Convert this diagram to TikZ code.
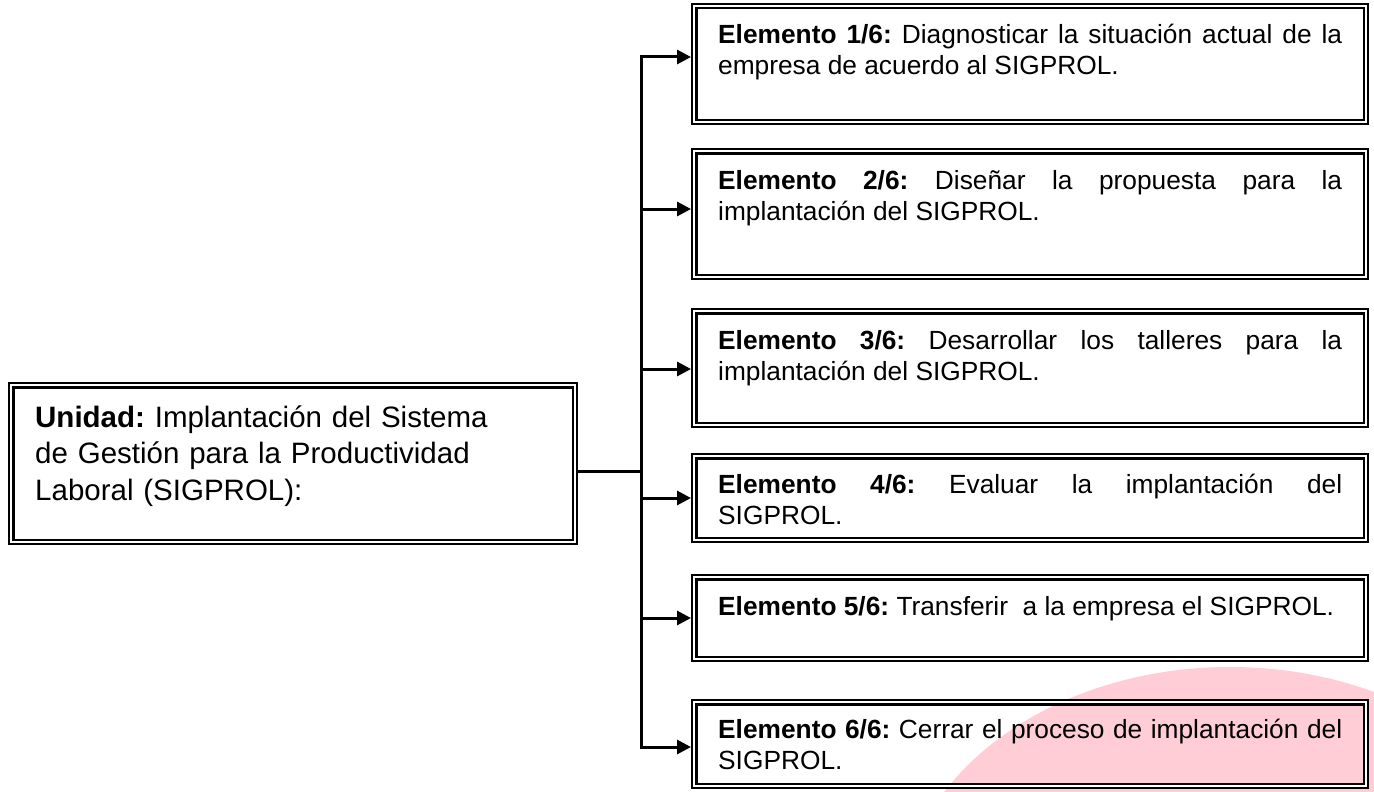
\documentclass[tikz,border=0pt]{standalone}
\usepackage{fontspec}
\setmainfont{Liberation Sans}
\usetikzlibrary{arrows.meta,positioning}
\definecolor{blush}{RGB}{255,205,213}

\begin{document}
\frenchspacing
\begin{tikzpicture}[x=1pt,y=-1pt,
    caja/.style={draw, double, line width=2.1pt, double distance=2.3pt, outer sep=3.25pt, inner sep=0pt},
    elem/.style={caja, minimum width=671.5pt},
    texto/.style={anchor=base west, inner sep=0pt, text width=624pt, align=justify, font=\fontsize{26.3}{31}\selectfont},
    enlace/.style={line width=3pt},
    punta/.tip={Triangle[length=14pt,width=14pt]},
    flecha/.style={enlace, -punta}]
    \useasboundingbox (0,0) rectangle (1374,792);

    % pink blot in the lower right corner
    \begin{scope}
        \clip (0,0) rectangle (1374,792);
        \fill[blush] (1230,917) ellipse (330 and 250);
    \end{scope}

    % Unidad (left)
    \node[caja, minimum width=563.5pt, minimum height=156.5pt] (unidad) at (293,463.5) {};
    \node[anchor=base west, inner sep=0pt, text width=530pt, align=left,
          font=\fontsize{29.5}{36.5}\selectfont] (unidadtxt) at (35,427)
        {\textbf{Unidad:} Implantación del Sistema\\de Gestión para la Productividad\\Laboral (SIGPROL):};

    % Elementos (right)
    \foreach \n/\y/\h in {1/64/115.5, 2/214/125.5, 3/368/113.5, 4/498/83.5, 5/618/81.5, 6/744/83.5}
        \node[elem, minimum height=\h pt] (e\n) at (1030,\y) {};

    \node[texto] (t1) at (718,44) {\textbf{Elemento 1/6:} Diagnosticar la situación actual de la\linebreak empresa de acuerdo al SIGPROL.};
    \node[texto] (t2) at (718,189) {\textbf{Elemento 2/6:} Diseñar la propuesta para la\linebreak implantación del SIGPROL.};
    \node[texto] (t3) at (718,349) {\textbf{Elemento 3/6:} Desarrollar los talleres para la\linebreak implantación del SIGPROL.};
    \node[texto] (t4) at (718,493) {\textbf{Elemento 4/6:} Evaluar la implantación del\linebreak SIGPROL.};
    \node[texto] (t5) at (718,615) {\textbf{Elemento 5/6:} Transferir\ \ a la empresa el SIGPROL.};
    \node[texto] (t6) at (718,738) {\textbf{Elemento 6/6:} Cerrar el proceso de implantación del\linebreak SIGPROL.};

    % bus and arrows
    \coordinate (b0) at (641,471);
    \foreach \n/\y in {1/57, 2/209, 3/369, 4/498, 5/618, 6/747}
        \coordinate (b\n) at (641,\y);

    \draw[enlace, punta-punta] (b1 -| e1.west) -- (b1) -- (b6) -- (b6 -| e6.west);
    \foreach \n in {2,...,5} \draw[flecha] (b\n) -- (b\n -| e\n.west);
    \draw[enlace] (unidad.east |- b0) -- (b0);
\end{tikzpicture}
\end{document}
